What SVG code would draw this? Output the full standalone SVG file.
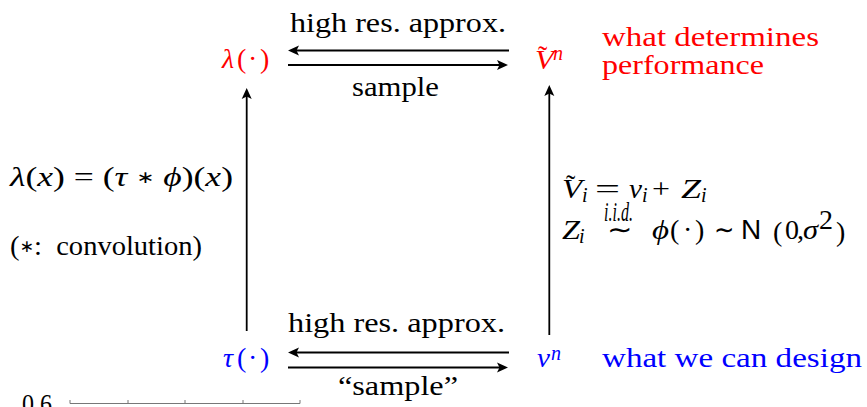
<svg xmlns="http://www.w3.org/2000/svg" width="867" height="407" viewBox="0 0 867 407">
<style>
text{font-family:"Liberation Serif","Times New Roman",serif;font-size:28px;fill:#000}
.red{fill:#ff0000}
.blue{fill:#0000ff}
.it{font-style:italic}
.sub{font-size:20px;font-style:italic}
.sf{font-family:"Liberation Sans",Arial,sans-serif}
.ast{font-family:"DejaVu Sans",sans-serif;font-size:17px}
.conn line{stroke:#000;stroke-width:1.8;fill:none}
.axis{stroke:#777;stroke-width:1;fill:none}
</style>
<defs>
<marker id="ah" viewBox="-12 -6 13 12" refX="-8" refY="0" markerWidth="13" markerHeight="12" markerUnits="userSpaceOnUse" orient="auto">
<path d="M0,0 L-11,-5 L-8.5,0 L-11,5 Z" fill="#000"/>
</marker>
</defs>

<g id="connectors" class="conn">
<line x1="509" y1="50.5" x2="296" y2="50.5" marker-end="url(#ah)"/>
<line x1="288" y1="65" x2="500" y2="65" marker-end="url(#ah)"/>
<line x1="509" y1="352.5" x2="296" y2="352.5" marker-end="url(#ah)"/>
<line x1="288" y1="367.5" x2="500" y2="367.5" marker-end="url(#ah)"/>
<line x1="246.7" y1="331" x2="246.7" y2="96" marker-end="url(#ah)"/>
<line x1="549.3" y1="335" x2="549.3" y2="93" marker-end="url(#ah)"/>
</g>

<g id="edge-labels">
<text x="290" y="32" textLength="216" lengthAdjust="spacingAndGlyphs">high res. approx.</text>
<text x="352" y="96" textLength="87" lengthAdjust="spacingAndGlyphs">sample</text>
<text x="288" y="332" textLength="217" lengthAdjust="spacingAndGlyphs">high res. approx.</text>
<text x="338" y="395" textLength="120" lengthAdjust="spacingAndGlyphs">“sample”</text>
</g>

<g id="node-lambda">
<text class="red" x="222" y="68"><tspan class="it">λ</tspan><tspan x="237">(</tspan><tspan x="248">·</tspan><tspan x="260">)</tspan></text>
</g>

<g id="node-Vn">
<text class="red it" x="535" y="69" textLength="19" lengthAdjust="spacingAndGlyphs">V</text>
<text class="red" x="538" y="65">˜</text>
<text class="red sub" x="553" y="60">n</text>
</g>

<g id="node-tau">
<text class="blue" x="223" y="367"><tspan class="it">τ</tspan><tspan x="237">(</tspan><tspan x="248">·</tspan><tspan x="260">)</tspan></text>
</g>

<g id="node-vn">
<text class="blue it" x="537" y="367" textLength="13" lengthAdjust="spacingAndGlyphs">v</text>
<text class="blue sub" x="551" y="360">n</text>
</g>

<g id="note-top">
<text class="red" x="602" y="46" textLength="217" lengthAdjust="spacingAndGlyphs">what determines</text>
<text class="red" x="602" y="74" textLength="162" lengthAdjust="spacingAndGlyphs">performance</text>
</g>

<g id="note-bottom">
<text class="blue" x="602" y="367" textLength="260" lengthAdjust="spacingAndGlyphs">what we can design</text>
</g>

<g id="left-eq">
<text x="10" y="186" textLength="223" lengthAdjust="spacingAndGlyphs" xml:space="preserve"><tspan class="it">λ</tspan>(<tspan class="it">x</tspan>) = (<tspan class="it">τ</tspan> <tspan class="ast" dy="-3">∗</tspan><tspan dy="3"> </tspan><tspan class="it">ϕ</tspan>)(<tspan class="it">x</tspan>)</text>
<text x="10" y="255" textLength="192" lengthAdjust="spacingAndGlyphs" xml:space="preserve">(<tspan class="ast" dy="-3">∗</tspan><tspan dy="3">:  convolution)</tspan></text>
</g>

<g id="right-eq">
<text class="it" x="562" y="198" textLength="20" lengthAdjust="spacingAndGlyphs">V</text>
<text x="566" y="194">˜</text>
<text class="sub" x="582" y="202">i</text>
<text x="595" y="198" textLength="25" lengthAdjust="spacingAndGlyphs">=</text>
<text class="it" x="629" y="198" textLength="13" lengthAdjust="spacingAndGlyphs">v</text>
<text class="sub" x="642" y="202">i</text>
<text x="652" y="198" textLength="18" lengthAdjust="spacingAndGlyphs">+</text>
<text class="it" x="681" y="198" textLength="20" lengthAdjust="spacingAndGlyphs">Z</text>
<text class="sub" x="701" y="202">i</text>

<text class="it" x="562" y="239" textLength="18" lengthAdjust="spacingAndGlyphs">Z</text>
<text class="sub" x="579" y="243">i</text>
<text class="it" x="604" y="221" font-size="16" textLength="29" lengthAdjust="spacingAndGlyphs">i.i.d.</text>
<text x="607" y="239" textLength="25" lengthAdjust="spacingAndGlyphs">∼</text>
<text class="it" x="652" y="239" textLength="17" lengthAdjust="spacingAndGlyphs">ϕ</text>
<text x="670" y="239"><tspan x="670">(</tspan><tspan x="683">·</tspan><tspan x="695">)</tspan></text>
<text x="714" y="239" textLength="20" lengthAdjust="spacingAndGlyphs">∼</text>
<text class="sf" x="741" y="239">N</text>
<text x="773" y="241" font-size="34">(</text>
<text x="785" y="239">0</text>
<text x="797" y="239">,</text>
<text class="it" x="803" y="239" textLength="15" lengthAdjust="spacingAndGlyphs">σ</text>
<text x="819" y="229" font-size="20">2</text>
<text x="836" y="241" font-size="34">)</text>
</g>

<g id="axis-fragment">
<text x="22" y="413" font-size="22" textLength="30" lengthAdjust="spacingAndGlyphs">0.6</text>
<path class="axis" d="M70,403.5 H300 M70,403.5 V400 M128,403.5 V400 M185,403.5 V400 M243,403.5 V400 M300,403.5 V400"/>
</g>
</svg>
